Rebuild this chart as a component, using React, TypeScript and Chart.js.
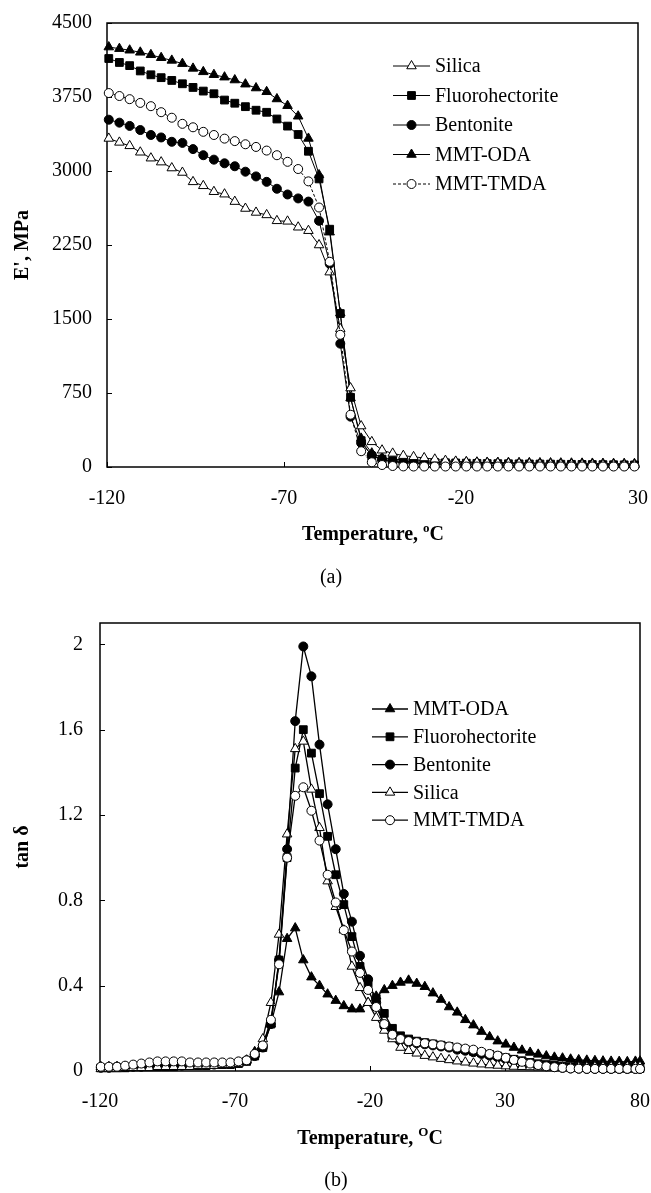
import React, { useEffect, useRef } from 'react';
import { Chart, registerables } from 'chart.js';
Chart.register(...registerables);

const SERIF = '"Liberation Serif", "Times New Roman", serif';

// ---------- Chart (a): storage modulus ----------
const tempA = [-119.5, -116.5, -113.6, -110.6, -107.6, -104.7, -101.7, -98.7, -95.7, -92.8,
  -89.8, -86.8, -83.9, -80.9, -77.9, -74.9, -72.0, -69.0, -66.0, -63.1,
  -60.1, -57.1, -54.1, -51.2, -48.2, -45.2, -42.3, -39.3, -36.3, -33.4,
  -30.4, -27.4, -24.4, -21.5, -18.5, -15.5, -12.6, -9.6, -6.6, -3.6,
  -0.7, 2.3, 5.3, 8.2, 11.2, 14.2, 17.1, 20.1, 23.1, 26.1, 29.0];

const silicaA = [3330, 3290, 3255, 3190, 3130, 3090, 3030, 2985, 2890, 2850,
  2790, 2765, 2690, 2620, 2580, 2555, 2495, 2490, 2430, 2395,
  2250, 1975, 1400, 800, 415, 255, 170, 138, 115, 103,
  92, 78, 65, 57, 51, 46, 42, 40, 37, 35,
  33, 31, 30, 28, 27, 26, 25, 24, 23, 22, 21];

const fluoroA = [4140, 4100, 4068, 4014, 3975, 3946, 3918, 3884, 3847, 3810,
  3783, 3719, 3687, 3652, 3616, 3595, 3527, 3455, 3370, 3200,
  2920, 2410, 1555, 706, 267, 110, 80, 65, 58, 53,
  49, 46, 43, 41, 39, 37, 35, 34, 33, 32,
  31, 30, 29, 28, 27, 26, 25, 24, 23, 22, 21];

const bentoniteA = [3520, 3490, 3457, 3415, 3365, 3340, 3296, 3285, 3222, 3160,
  3115, 3078, 3048, 2993, 2945, 2890, 2820, 2762, 2722, 2690,
  2495, 2060, 1250, 510, 243, 120, 75, 55, 45, 38,
  33, 29, 26, 24, 22, 20, 19, 18, 17, 16,
  15, 14, 14, 13, 13, 12, 12, 11, 11, 10, 10];

const odaA = [4256, 4240, 4224, 4203, 4178, 4148, 4121, 4088, 4040, 4005,
  3976, 3951, 3922, 3880, 3841, 3803, 3730, 3662, 3555, 3330,
  2960, 2380, 1560, 700, 290, 140, 95, 80, 72, 66,
  62, 58, 55, 52, 50, 48, 46, 45, 44, 43,
  42, 41, 40, 39, 38, 37, 36, 35, 34, 34, 33];

const tmdaA = [3790, 3760, 3728, 3690, 3657, 3596, 3540, 3478, 3443, 3397,
  3365, 3328, 3303, 3271, 3244, 3207, 3160, 3093, 3020, 2895,
  2630, 2080, 1340, 530, 160, 48, 20, 10, 6, 5,
  5, 5, 5, 5, 5, 5, 5, 5, 5, 5,
  5, 5, 5, 5, 5, 5, 5, 5, 5, 5, 5];

const xTicksA = [-120, -70, -20, 30];
const yTicksA = [0, 750, 1500, 2250, 3000, 3750, 4500];
const legendA = ['Silica', 'Fluorohectorite', 'Bentonite', 'MMT-ODA', 'MMT-TMDA'];

// ---------- Chart (b): tan delta ----------
const tempB = [-119.7, -116.7, -113.7, -110.7, -107.7, -104.7, -101.7, -98.7, -95.7, -92.7,
  -89.7, -86.7, -83.7, -80.7, -77.7, -74.7, -71.7, -68.7, -65.7, -62.7,
  -59.7, -56.7, -53.7, -50.7, -47.7, -44.7, -41.7, -38.7, -35.7, -32.7,
  -29.7, -26.7, -23.7, -20.7, -17.7, -14.7, -11.7, -8.7, -5.7, -2.7,
  0.3, 3.3, 6.3, 9.3, 12.3, 15.3, 18.3, 21.3, 24.3, 27.3,
  30.3, 33.3, 36.3, 39.3, 42.3, 45.3, 48.3, 51.3, 54.3, 57.3,
  60.3, 63.3, 66.3, 69.3, 72.3, 75.3, 78.3, 80];

const odaB = [0.02, 0.02, 0.02, 0.02, 0.025, 0.025, 0.025, 0.025, 0.03, 0.03,
  0.03, 0.03, 0.03, 0.03, 0.03, 0.035, 0.035, 0.04, 0.05, 0.09,
  0.13, 0.22, 0.37, 0.62, 0.67, 0.52, 0.44, 0.40, 0.36, 0.33,
  0.305, 0.29, 0.29, 0.32, 0.35, 0.38, 0.40, 0.415, 0.425, 0.41,
  0.395, 0.365, 0.335, 0.30, 0.275, 0.24, 0.215, 0.185, 0.16, 0.14,
  0.125, 0.11, 0.097, 0.087, 0.078, 0.07, 0.064, 0.06, 0.055, 0.052,
  0.05, 0.048, 0.046, 0.045, 0.044, 0.043, 0.045, 0.046];

const fluoroB = [0.015, 0.015, 0.015, 0.015, 0.02, 0.02, 0.02, 0.02, 0.02, 0.02,
  0.025, 0.025, 0.025, 0.025, 0.03, 0.03, 0.03, 0.035, 0.045, 0.07,
  0.11, 0.22, 0.52, 1.00, 1.42, 1.60, 1.49, 1.30, 1.10, 0.92,
  0.78, 0.63, 0.49, 0.41, 0.34, 0.27, 0.20, 0.165, 0.15, 0.14,
  0.133, 0.127, 0.121, 0.115, 0.107, 0.10, 0.092, 0.085, 0.078, 0.07,
  0.062, 0.055, 0.048, 0.04, 0.034, 0.03, 0.026, 0.022, 0.02, 0.018,
  0.016, 0.015, 0.014, 0.013, 0.013, 0.012, 0.012, 0.012];

const bentoniteB = [0.015, 0.015, 0.02, 0.02, 0.02, 0.02, 0.025, 0.025, 0.025, 0.025,
  0.025, 0.03, 0.03, 0.03, 0.03, 0.035, 0.035, 0.04, 0.05, 0.07,
  0.11, 0.22, 0.52, 1.04, 1.64, 1.99, 1.85, 1.53, 1.25, 1.04,
  0.83, 0.70, 0.54, 0.43, 0.32, 0.21, 0.16, 0.145, 0.135, 0.13,
  0.125, 0.12, 0.115, 0.11, 0.10, 0.095, 0.088, 0.08, 0.072, 0.064,
  0.055, 0.048, 0.04, 0.034, 0.028, 0.022, 0.018, 0.015, 0.012, 0.011,
  0.01, 0.01, 0.01, 0.01, 0.01, 0.01, 0.01, 0.01];

const silicaB = [0.01, 0.01, 0.01, 0.015, 0.015, 0.015, 0.015, 0.02, 0.02, 0.02,
  0.02, 0.02, 0.025, 0.025, 0.025, 0.03, 0.03, 0.035, 0.05, 0.08,
  0.15, 0.32, 0.64, 1.11, 1.51, 1.545, 1.32, 1.14, 0.89, 0.77,
  0.66, 0.49, 0.39, 0.32, 0.25, 0.19, 0.15, 0.11, 0.095, 0.083,
  0.072, 0.065, 0.058, 0.052, 0.046, 0.041, 0.036, 0.032, 0.028, 0.026,
  0.023, 0.021, 0.02, 0.019, 0.018, 0.018, 0.018, 0.018, 0.018, 0.019,
  0.019, 0.02, 0.02, 0.02, 0.021, 0.021, 0.022, 0.022];

const tmdaB = [0.02, 0.02, 0.02, 0.025, 0.03, 0.035, 0.04, 0.045, 0.045, 0.045,
  0.045, 0.04, 0.04, 0.04, 0.04, 0.04, 0.04, 0.045, 0.05, 0.08,
  0.12, 0.24, 0.50, 1.00, 1.29, 1.33, 1.22, 1.08, 0.92, 0.79,
  0.66, 0.56, 0.46, 0.38, 0.30, 0.22, 0.17, 0.15, 0.14, 0.135,
  0.13, 0.125, 0.12, 0.115, 0.11, 0.105, 0.10, 0.09, 0.08, 0.072,
  0.062, 0.052, 0.043, 0.035, 0.028, 0.022, 0.018, 0.015, 0.012, 0.011,
  0.01, 0.01, 0.01, 0.01, 0.01, 0.01, 0.01, 0.01];

const xTicksB = [-120, -70, -20, 30, 80];
const yTicksB = [0, 0.4, 0.8, 1.2, 1.6, 2];
const legendB = ['MMT-ODA', 'Fluorohectorite', 'Bentonite', 'Silica', 'MMT-TMDA'];

// ---------- styles ----------
const MARK: Record<string, { shape: string; fill: string; r: number }> = {
  'Silica': { shape: 'triangle', fill: '#ffffff', r: 5.5 },
  'Fluorohectorite': { shape: 'rect', fill: '#000000', r: 5.5 },
  'Bentonite': { shape: 'circle', fill: '#000000', r: 4.5 },
  'MMT-ODA': { shape: 'triangle', fill: '#000000', r: 5.5 },
  'MMT-TMDA': { shape: 'circle', fill: '#ffffff', r: 4.5 },
};

function drawMarker(ctx: CanvasRenderingContext2D, shape: string, x: number, y: number, r: number, fill: string) {
  ctx.beginPath();
  if (shape === 'circle') {
    ctx.arc(x, y, r, 0, Math.PI * 2);
  } else if (shape === 'rect') {
    const s = Math.SQRT1_2 * r;
    ctx.rect(x - s, y - s, 2 * s, 2 * s);
  } else {
    let a = 0;
    ctx.moveTo(x + Math.sin(a) * r, y - Math.cos(a) * r);
    a += (2 * Math.PI) / 3;
    ctx.lineTo(x + Math.sin(a) * r, y - Math.cos(a) * r);
    a += (2 * Math.PI) / 3;
    ctx.lineTo(x + Math.sin(a) * r, y - Math.cos(a) * r);
    ctx.closePath();
  }
  ctx.fillStyle = fill;
  ctx.fill();
  ctx.setLineDash([]);
  ctx.strokeStyle = '#000';
  ctx.lineWidth = 1;
  ctx.stroke();
}

function makeDataset(label: string, temps: number[], vals: number[], lw: number, dash: number[]) {
  const m = MARK[label];
  return {
    label,
    data: temps.map((t, i) => ({ x: t, y: vals[i] })),
    borderColor: '#000',
    backgroundColor: m.fill,
    borderWidth: lw,
    borderDash: dash,
    pointStyle: m.shape,
    pointRadius: m.r,
    pointHoverRadius: m.r,
    pointBackgroundColor: m.fill,
    pointBorderColor: '#000',
    pointBorderWidth: 1,
    fill: false,
    tension: 0,
    clip: false,
  };
}

interface DecorCfg {
  xTicks: number[];
  yTicks: number[];
  yTitle: string;
  yTitlePos: [number, number];
  xTitle: string;
  xSup: string;
  xTitlePos: [number, number];
  caption: string;
  capPos: [number, number];
  legend: string[];
  legX1: number;
  legX2: number;
  legTextX: number;
  legY0: number;
  legDY: number;
}

function decorPlugin(cfg: DecorCfg) {
  return {
    id: 'decor',
    beforeDatasetsDraw(chart: any) {
      const { ctx, chartArea: a, scales } = chart;
      ctx.save();
      ctx.strokeStyle = '#000';
      ctx.lineWidth = 1;
      for (const v of cfg.yTicks) {
        const y = Math.round(scales.y.getPixelForValue(v)) + 0.5;
        ctx.beginPath();
        ctx.moveTo(a.left, y);
        ctx.lineTo(a.left + 5, y);
        ctx.stroke();
      }
      for (const v of cfg.xTicks) {
        const x = Math.round(scales.x.getPixelForValue(v)) + 0.5;
        ctx.beginPath();
        ctx.moveTo(x, a.bottom);
        ctx.lineTo(x, a.bottom - 5);
        ctx.stroke();
      }
      ctx.lineWidth = 1.5;
      ctx.strokeRect(a.left, a.top, a.right - a.left, a.bottom - a.top);
      ctx.restore();
    },
    afterDraw(chart: any) {
      const { ctx } = chart;
      ctx.save();
      ctx.fillStyle = '#000';
      // legend
      cfg.legend.forEach((label, i) => {
        const ds = chart.data.datasets.find((d: any) => d.label === label);
        const m = MARK[label];
        const y = cfg.legY0 + i * cfg.legDY;
        ctx.beginPath();
        ctx.setLineDash(ds.borderDash || []);
        ctx.strokeStyle = '#000';
        ctx.lineWidth = ds.borderWidth;
        ctx.moveTo(cfg.legX1, y);
        ctx.lineTo(cfg.legX2, y);
        ctx.stroke();
        ctx.setLineDash([]);
        drawMarker(ctx, m.shape, (cfg.legX1 + cfg.legX2) / 2, y, m.r, m.fill);
        ctx.fillStyle = '#000';
        ctx.font = `20px ${SERIF}`;
        ctx.textAlign = 'left';
        ctx.textBaseline = 'middle';
        ctx.fillText(label, cfg.legTextX, y + 1);
      });
      // y title
      ctx.save();
      ctx.translate(cfg.yTitlePos[0], cfg.yTitlePos[1]);
      ctx.rotate(-Math.PI / 2);
      ctx.font = `bold 20px ${SERIF}`;
      ctx.textAlign = 'center';
      ctx.textBaseline = 'middle';
      ctx.fillText(cfg.yTitle, 0, 0);
      ctx.restore();
      // x title with superscript
      ctx.font = `bold 20px ${SERIF}`;
      const w1 = ctx.measureText(cfg.xTitle).width;
      const w3 = ctx.measureText('C').width;
      ctx.font = `bold 13px ${SERIF}`;
      const w2 = ctx.measureText(cfg.xSup).width;
      const total = w1 + w2 + w3;
      let x = cfg.xTitlePos[0] - total / 2;
      const base = cfg.xTitlePos[1] + 7;
      ctx.textAlign = 'left';
      ctx.textBaseline = 'alphabetic';
      ctx.font = `bold 20px ${SERIF}`;
      ctx.fillText(cfg.xTitle, x, base);
      x += w1;
      ctx.font = `bold 13px ${SERIF}`;
      ctx.fillText(cfg.xSup, x, base - 8);
      x += w2;
      ctx.font = `bold 20px ${SERIF}`;
      ctx.fillText('C', x, base);
      // caption
      ctx.font = `20px ${SERIF}`;
      ctx.textAlign = 'center';
      ctx.textBaseline = 'middle';
      ctx.fillText(cfg.caption, cfg.capPos[0], cfg.capPos[1]);
      ctx.restore();
    },
  };
}

function zeroPad(s: any) {
  s.paddingLeft = 0;
  s.paddingRight = 0;
  s.paddingTop = 0;
  s.paddingBottom = 0;
}

function makeConfig(p: {
  datasets: any[];
  xMin: number; xMax: number; xTicks: number[];
  yMin: number; yMax: number; yTicks: number[];
  padTop: number; padRight: number; yWidth: number; xHeight: number;
  yPad: number; xPad: number; decor: DecorCfg;
}): any {
  const tickFont = { family: SERIF, size: 20 };
  return {
    type: 'line',
    data: { datasets: p.datasets },
    plugins: [decorPlugin(p.decor)],
    options: {
      animation: false,
      responsive: false,
      maintainAspectRatio: false,
      events: [],
      layout: { padding: { left: 0, top: p.padTop, right: p.padRight, bottom: 0 } },
      plugins: { legend: { display: false }, tooltip: { enabled: false }, title: { display: false } },
      scales: {
        x: {
          type: 'linear',
          min: p.xMin,
          max: p.xMax,
          grid: { display: false, drawTicks: false },
          border: { display: false },
          ticks: {
            font: tickFont, color: '#000', padding: p.xPad, maxRotation: 0, autoSkip: false,
            callback: (v: number) => String(v),
          },
          afterBuildTicks: (s: any) => { s.ticks = p.xTicks.map((v) => ({ value: v })); },
          afterFit: (s: any) => { s.height = p.xHeight; zeroPad(s); },
        },
        y: {
          type: 'linear',
          min: p.yMin,
          max: p.yMax,
          grid: { display: false, drawTicks: false },
          border: { display: false },
          ticks: {
            font: tickFont, color: '#000', padding: p.yPad, autoSkip: false,
            callback: (v: number) => String(v),
          },
          afterBuildTicks: (s: any) => { s.ticks = p.yTicks.map((v) => ({ value: v })); },
          afterFit: (s: any) => { s.width = p.yWidth; zeroPad(s); },
        },
      },
    },
  };
}

function configA() {
  return makeConfig({
    datasets: [
      makeDataset('MMT-TMDA', tempA, tmdaA, 1, [3, 2]),
      makeDataset('Silica', tempA, silicaA, 1, []),
      makeDataset('Bentonite', tempA, bentoniteA, 1, []),
      makeDataset('Fluorohectorite', tempA, fluoroA, 1, []),
      makeDataset('MMT-ODA', tempA, odaA, 1, []),
    ],
    xMin: -120, xMax: 30, xTicks: xTicksA,
    yMin: 0, yMax: 4500, yTicks: yTicksA,
    padTop: 23, padRight: 13, yWidth: 107, xHeight: 133,
    yPad: 15, xPad: 20,
    decor: {
      xTicks: xTicksA, yTicks: yTicksA,
      yTitle: "E', MPa", yTitlePos: [23, 245],
      xTitle: 'Temperature, ', xSup: 'o', xTitlePos: [373, 533],
      caption: '(a)', capPos: [331, 578],
      legend: legendA, legX1: 393, legX2: 430, legTextX: 435, legY0: 66, legDY: 29.5,
    },
  });
}

function configB() {
  return makeConfig({
    datasets: [
      makeDataset('MMT-TMDA', tempB, tmdaB, 1.3, []),
      makeDataset('Silica', tempB, silicaB, 1.3, []),
      makeDataset('Fluorohectorite', tempB, fluoroB, 1.3, []),
      makeDataset('Bentonite', tempB, bentoniteB, 1.3, []),
      makeDataset('MMT-ODA', tempB, odaB, 1.3, []),
    ],
    xMin: -120, xMax: 80, xTicks: xTicksB,
    yMin: 0, yMax: 2.1, yTicks: yTicksB,
    padTop: 23, padRight: 11, yWidth: 100, xHeight: 122,
    yPad: 17, xPad: 19,
    decor: {
      xTicks: xTicksB, yTicks: yTicksB,
      yTitle: 'tan δ', yTitlePos: [23, 247],
      xTitle: 'Temperature, ', xSup: 'O', xTitlePos: [370, 537],
      caption: '(b)', capPos: [336, 581],
      legend: legendB, legX1: 372, legX2: 408, legTextX: 413, legY0: 109, legDY: 27.8,
    },
  });
}

function ChartCanvas({ build, top, height }: { build: () => any; top: number; height: number }) {
  const ref = useRef<HTMLCanvasElement | null>(null);
  useEffect(() => {
    if (!ref.current) return;
    const chart = new Chart(ref.current, build());
    return () => chart.destroy();
  }, []);
  return (
    <canvas
      ref={ref}
      width={651}
      height={height}
      style={{ position: 'absolute', left: 0, top, width: 651, height }}
    />
  );
}

export default function App() {
  return (
    <div style={{ position: 'absolute', left: 0, top: 0, width: 651, height: 1193, background: '#fff', overflow: 'hidden' }}>
      <ChartCanvas build={configA} top={0} height={600} />
      <ChartCanvas build={configB} top={600} height={593} />
    </div>
  );
}
